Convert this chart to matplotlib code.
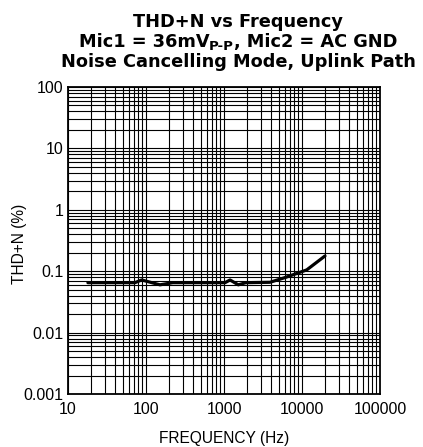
import matplotlib
matplotlib.use("Agg")
import matplotlib.pyplot as plt
from matplotlib.ticker import LogLocator, FixedLocator, NullFormatter

# curve
freq_hz = [18, 72, 88, 151, 220, 1030, 1195, 1525, 1900, 3890, 6300, 11500, 19700]
thdn_pct = [0.065, 0.065, 0.072, 0.060, 0.065, 0.065, 0.072, 0.060, 0.065, 0.066,
            0.080, 0.105, 0.177]

x_ticks = [10, 100, 1000, 10000, 100000]
x_labels = ["10", "100", "1000", "10000", "100000"]
y_ticks = [0.001, 0.01, 0.1, 1, 10, 100]
y_labels = ["0.001", "0.01", "0.1", "1", "10", "100"]

plt.rcParams['font.family'] = ['Liberation Sans', 'DejaVu Sans']

W, H = 423, 447
fig = plt.figure(figsize=(W / 100, H / 100), dpi=100)
ax = fig.add_axes([68 / W, 1 - 394 / H, 312 / W, 307 / H])

ax.set_xscale('log')
ax.set_yscale('log')
ax.set_xlim(10, 100000)
ax.set_ylim(0.001, 100)

ax.xaxis.set_major_locator(FixedLocator(x_ticks))
ax.set_xticklabels(x_labels)
ax.yaxis.set_major_locator(FixedLocator(y_ticks))
ax.set_yticklabels(y_labels)
ax.xaxis.set_minor_locator(LogLocator(base=10, subs=range(2, 10), numticks=20))
ax.yaxis.set_minor_locator(LogLocator(base=10, subs=range(2, 10), numticks=20))
ax.xaxis.set_minor_formatter(NullFormatter())
ax.yaxis.set_minor_formatter(NullFormatter())

ax.grid(True, which='both', color='black', linewidth=0.8)
ax.tick_params(which='both', length=0, labelsize=11.5)
ax.tick_params(axis='x', pad=6)
ax.tick_params(axis='y', pad=3.5)
for sp in ax.spines.values():
    sp.set_linewidth(1.3)

ax.plot(freq_hz, thdn_pct, color='black', linewidth=2.3, solid_joinstyle='round',
        solid_capstyle='round')

ax.set_xlabel("FREQUENCY (Hz)", fontsize=11.2)
ax.xaxis.set_label_coords(0.5, -0.122)
ax.set_ylabel("THD+N (%)", fontsize=11.2)
ax.yaxis.set_label_coords(-0.13, 0.49)

# title: three bold lines, middle one with a subscript
tfont = ['DejaVu Sans']
tsize = 12.8
cx = 238
fig.text(cx / W, 1 - 27 / H, "THD+N vs Frequency", ha='center', va='baseline',
         fontsize=tsize, fontweight='bold', family=tfont)
fig.text(cx / W, 1 - 67 / H, "Noise Cancelling Mode, Uplink Path", ha='center',
         va='baseline', fontsize=tsize, fontweight='bold', family=tfont)

parts = [("Mic1 = 36mV", tsize, 0), ("P-P", tsize * 0.75, -3.5),
         (", Mic2 = AC GND", tsize, 0)]
renderer = fig.canvas.get_renderer()
widths = []
for s, fs, dy in parts:
    t = fig.text(0, 0, s, fontsize=fs, fontweight='bold', family=tfont)
    widths.append(t.get_window_extent(renderer).width)
    t.remove()
x0 = cx - sum(widths) / 2
base_y = H - 47
for (s, fs, dy), w in zip(parts, widths):
    fig.text(x0 / W, (base_y + dy) / H, s, fontsize=fs, fontweight='bold',
             family=tfont, va='baseline', ha='left')
    x0 += w

fig.savefig("out.png", dpi=100)
